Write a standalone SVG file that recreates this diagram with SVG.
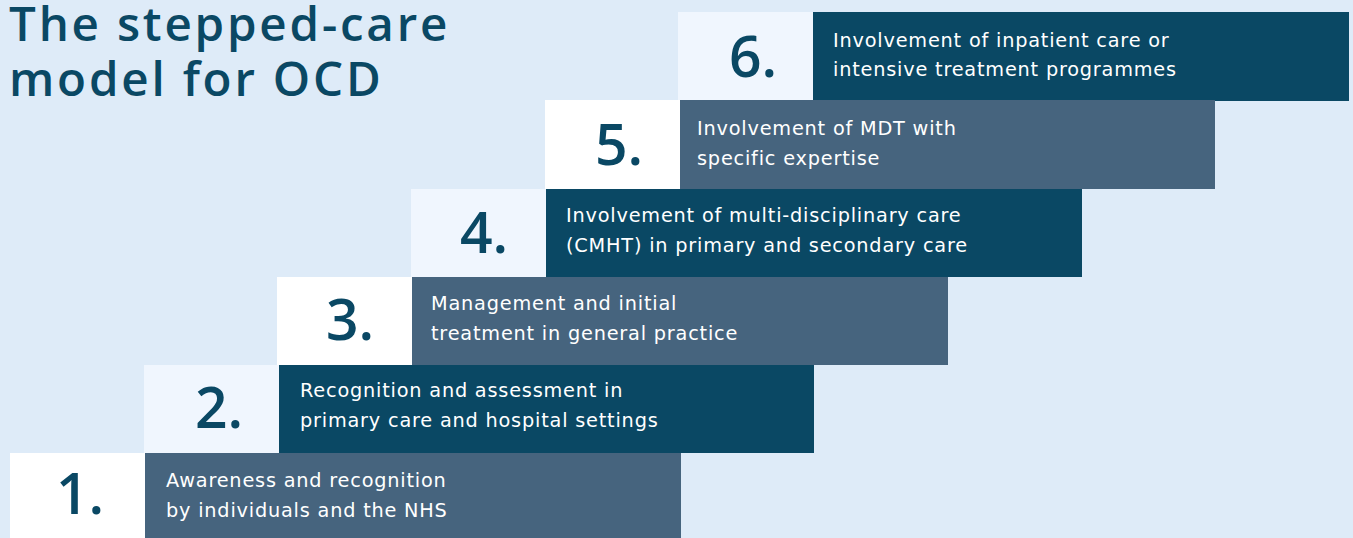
<svg xmlns="http://www.w3.org/2000/svg" width="1353" height="538" viewBox="0 0 1353 538">
<style>
.bg{fill:#deebf8}
.title{font-family:"Open Sans","Liberation Sans",sans-serif;font-weight:600;font-size:47.5px;letter-spacing:2.8px;fill:#0a4864}
.num{font-family:"Open Sans","Liberation Sans",sans-serif;font-weight:600;font-size:57px;fill:#0a4864;text-anchor:middle}
.lbl{font-family:"DejaVu Sans","Liberation Sans",sans-serif;font-size:19.3px;letter-spacing:0.8px;fill:#ffffff}
.w{fill:#ffffff}
.l{fill:#f0f6fe}
.d{fill:#0a4864}
.g{fill:#46647e}
</style>
<rect class="bg" x="0" y="0" width="1353" height="538"/>
<g id="title">
<text class="title" x="9" y="41"><tspan x="9" y="41">The stepped-care</tspan><tspan x="9" y="96">model for OCD</tspan></text>
</g>
<g id="step6">
<rect class="l" x="678" y="12" width="135" height="89"/>
<rect class="d" x="813" y="12" width="536" height="89"/>
<text class="num" x="753" y="77">6.</text>
<text class="lbl" x="833" y="47">Involvement of inpatient care or</text>
<text class="lbl" x="833" y="76">intensive treatment programmes</text>
</g>
<g id="step5">
<rect class="w" x="545" y="100" width="135" height="89"/>
<rect class="g" x="680" y="100" width="535" height="89"/>
<text class="num" x="619" y="165">5.</text>
<text class="lbl" x="697" y="135">Involvement of MDT with</text>
<text class="lbl" x="697" y="165">specific expertise</text>
</g>
<g id="step4">
<rect class="l" x="411" y="189" width="135" height="88"/>
<rect class="d" x="546" y="189" width="536" height="88"/>
<text class="num" x="484" y="253">4.</text>
<text class="lbl" x="566" y="222">Involvement of multi-disciplinary care</text>
<text class="lbl" x="566" y="252">(CMHT) in primary and secondary care</text>
</g>
<g id="step3">
<rect class="w" x="277" y="277" width="135" height="88"/>
<rect class="g" x="412" y="277" width="536" height="88"/>
<text class="num" x="350" y="340">3.</text>
<text class="lbl" x="431" y="310">Management and initial</text>
<text class="lbl" x="431" y="340">treatment in general practice</text>
</g>
<g id="step2">
<rect class="l" x="144" y="365" width="135" height="88"/>
<rect class="d" x="279" y="365" width="535" height="88"/>
<text class="num" x="219" y="428">2.</text>
<text class="lbl" x="300" y="397">Recognition and assessment in</text>
<text class="lbl" x="300" y="427">primary care and hospital settings</text>
</g>
<g id="step1">
<rect class="w" x="10" y="453" width="135" height="85"/>
<rect class="g" x="145" y="453" width="536" height="85"/>
<text class="num" x="80" y="514">1.</text>
<text class="lbl" x="166" y="487">Awareness and recognition</text>
<text class="lbl" x="166" y="517">by individuals and the NHS</text>
</g>
</svg>
